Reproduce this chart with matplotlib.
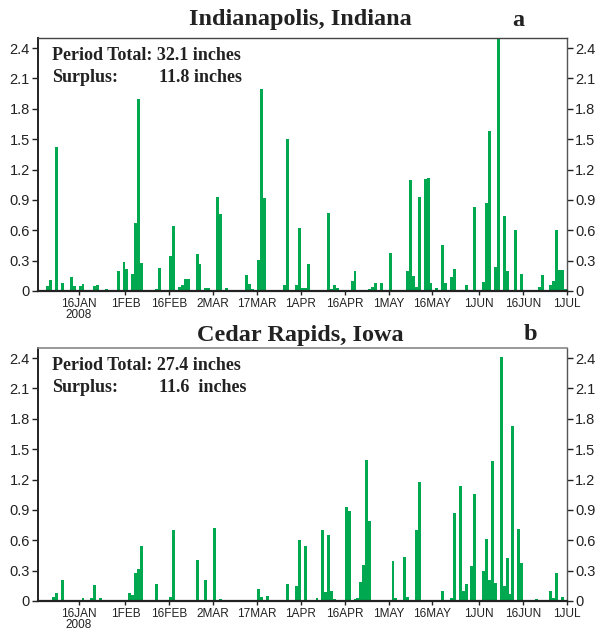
import matplotlib
matplotlib.use("Agg")
import matplotlib.pyplot as plt

# Day offsets from 1 Jan 2008 (0 = 1 Jan) and daily precipitation (inches)
indy_days = [4, 5, 7, 9, 12, 13, 15, 16, 20, 21, 24, 28, 30, 31, 33, 34, 35, 36,
             41, 42, 46, 47, 49, 50, 51, 52, 55, 56, 58, 59, 62, 63, 65, 72, 73, 74,
             76, 77, 78, 80, 85, 86, 89, 90, 91, 92, 93, 100, 101, 102, 103, 108, 109,
             114, 115, 116, 118, 121, 127, 128, 129, 130, 131, 133, 134, 135, 137,
             139, 140, 142, 143, 147, 150, 153, 154, 155, 157, 158, 160, 161, 164,
             166, 172, 173, 176, 177, 178, 179, 180, 181]
indy_vals = [0.05, 0.11, 1.42, 0.08, 0.14, 0.05, 0.05, 0.07, 0.05, 0.06, 0.02, 0.20,
             0.29, 0.22, 0.17, 0.67, 1.90, 0.28, 0.02, 0.23, 0.35, 0.64, 0.04, 0.06,
             0.12, 0.12, 0.37, 0.27, 0.03, 0.03, 0.93, 0.76, 0.03, 0.16, 0.07, 0.02,
             0.31, 2.00, 0.92, 0.01, 0.06, 1.50, 0.06, 0.62, 0.03, 0.03, 0.27, 0.77,
             0.02, 0.06, 0.03, 0.10, 0.20, 0.02, 0.04, 0.08, 0.08, 0.38, 0.20, 1.10,
             0.15, 0.04, 0.93, 1.11, 1.12, 0.08, 0.03, 0.45, 0.08, 0.14, 0.22, 0.06,
             0.83, 0.09, 0.87, 1.58, 0.24, 2.60, 0.74, 0.20, 0.60, 0.17, 0.04, 0.16,
             0.06, 0.10, 0.60, 0.21, 0.21, 0.02]

cedar_days = [6, 7, 9, 16, 19, 20, 22, 32, 33, 34, 35, 36, 41, 46, 47, 55, 58, 61,
              63, 76, 77, 79, 86, 89, 90, 92, 96, 98, 99, 100, 101, 102, 106, 107,
              109, 110, 111, 112, 113, 114, 122, 123, 126, 127, 130, 131, 139, 142,
              143, 145, 146, 147, 149, 150, 153, 154, 155, 156, 157, 159, 160, 161,
              162, 163, 165, 166, 171, 176, 177, 178, 180]
cedar_vals = [0.04, 0.08, 0.21, 0.03, 0.03, 0.16, 0.03, 0.08, 0.06, 0.28, 0.32, 0.54,
              0.17, 0.04, 0.70, 0.41, 0.21, 0.72, 0.02, 0.12, 0.04, 0.05, 0.17, 0.15,
              0.60, 0.54, 0.03, 0.70, 0.09, 0.65, 0.10, 0.02, 0.93, 0.89, 0.02, 0.03,
              0.19, 0.36, 1.39, 0.79, 0.40, 0.03, 0.43, 0.04, 0.70, 1.18, 0.10, 0.03,
              0.87, 1.14, 0.10, 0.17, 0.35, 1.06, 0.30, 0.61, 0.21, 1.38, 0.18, 2.41,
              0.15, 0.42, 0.07, 1.73, 0.71, 0.38, 0.02, 0.10, 0.03, 0.28, 0.04]

tick_days = [15, 31, 46, 61, 76, 91, 106, 121, 136, 152, 167, 182]
tick_labels = ["16JAN\n2008", "1FEB", "16FEB", "2MAR", "17MAR", "1APR", "16APR",
               "1MAY", "16MAY", "1JUN", "16JUN", "1JUL"]
y_ticks = [0, 0.3, 0.6, 0.9, 1.2, 1.5, 1.8, 2.1, 2.4]
y_labels = ["0", "0.3", "0.6", "0.9", "1.2", "1.5", "1.8", "2.1", "2.4"]

panels = [
    dict(title="Indianapolis, Indiana", letter="a", total="32.1 inches",
         surplus="11.8 inches", days=indy_days, vals=indy_vals),
    dict(title="Cedar Rapids, Iowa", letter="b", total="27.4 inches",
         surplus="11.6  inches", days=cedar_days, vals=cedar_vals),
]

W, H = 596, 631
fig = plt.figure(figsize=(W / 100, H / 100), dpi=100)
GREEN = "#00a84f"
SERIF = ["Liberation Serif", "DejaVu Serif"]
SANS = ["Liberation Sans", "DejaVu Sans"]

geo = [  # left, top, right, bottom in pixels
    (38, 38, 567, 291),
    (38, 348, 567, 601),
]
title_y = [20, 335]
letter_x = [518, 530]

for i, (p, (l, t, r, b)) in enumerate(zip(panels, geo)):
    ax = fig.add_axes([l / W, 1 - b / H, (r - l) / W, (b - t) / H])
    ax.bar(p["days"], p["vals"], width=1.0, align="edge", color=GREEN,
           edgecolor="none", linewidth=0)
    ax.set_xlim(1.1, 182)
    ax.set_ylim(0, 2.5)
    ax.set_xticks(tick_days)
    ax.set_xticklabels(tick_labels, fontfamily=SANS, fontsize=8.5,
                       linespacing=0.85, color="#222222")
    ax.set_yticks(y_ticks)
    ax.set_yticklabels(y_labels, fontfamily=SANS, fontsize=10.5,
                       color="#222222")
    ax.tick_params(axis="y", which="both", direction="out", length=4,
                   width=1, colors="#222222", left=True, right=True,
                   labelleft=True, labelright=True, pad=2)
    ax.tick_params(axis="x", direction="out", length=3, width=1,
                   colors="#222222", pad=2)
    ax.spines["left"].set_linewidth(1.4)
    ax.spines["left"].set_color("#222222")
    ax.spines["bottom"].set_linewidth(1.6)
    ax.spines["bottom"].set_color("#222222")
    ax.spines["right"].set_linewidth(1.0)
    ax.spines["right"].set_color("#555555")
    if i == 0:
        ax.spines["top"].set_linestyle((0, (1, 1)))
        ax.spines["top"].set_color("#444444")
        ax.spines["top"].set_linewidth(1.0)
    else:
        ax.spines["top"].set_color("#888888")
        ax.spines["top"].set_linewidth(1.2)

    fig.text(300 / W, 1 - title_y[i] / H, p["title"], ha="center", va="center",
             fontsize=17.5, fontweight="bold", fontfamily=SERIF, color="#222222")
    fig.text(letter_x[i] / W, 1 - title_y[i] / H, p["letter"], ha="center",
             va="center", fontsize=17.5, fontweight="bold", fontfamily=SERIF,
             color="#222222")
    y1 = t + 17
    y2 = t + 39
    fig.text(52 / W, 1 - y1 / H, "Period Total: " + p["total"], ha="left",
             va="center", fontsize=13, fontweight="bold", fontfamily=SERIF,
             color="#222222")
    fig.text(52 / W, 1 - y2 / H, "Surplus:", ha="left", va="center",
             fontsize=13, fontweight="bold", fontfamily=SERIF, color="#222222")
    fig.text(159 / W, 1 - y2 / H, p["surplus"], ha="left", va="center",
             fontsize=13, fontweight="bold", fontfamily=SERIF, color="#222222")

fig.savefig("out.png", dpi=100)
